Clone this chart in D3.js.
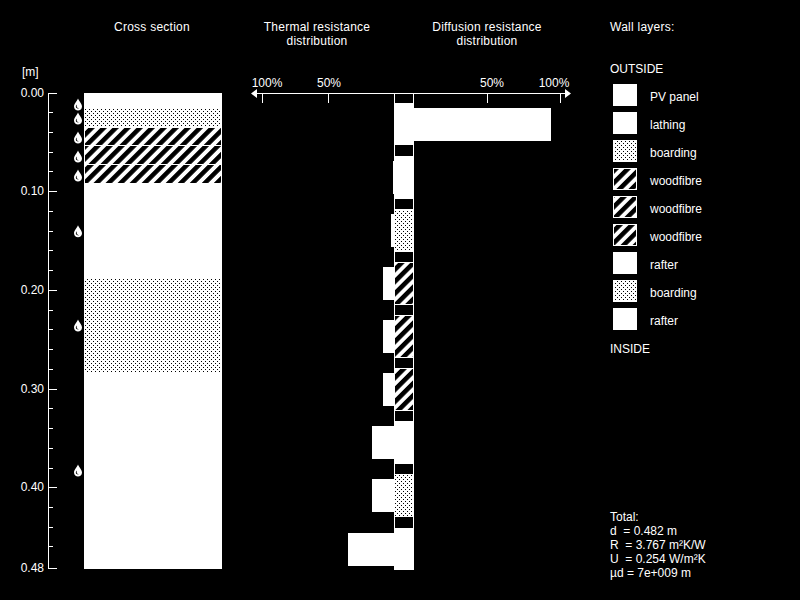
<!DOCTYPE html>
<html><head><meta charset="utf-8">
<script src="https://cdn.jsdelivr.net/npm/d3@7"></script>
<style>
html,body{margin:0;padding:0;background:#000;overflow:hidden}
text{font-family:"Liberation Sans",Arial,sans-serif;font-size:12px;fill:#fff;white-space:pre}
text.title{letter-spacing:.25px}
</style></head><body>
<script>
const layerNames=["PV panel","lathing","boarding","woodfibre","woodfibre","woodfibre","rafter","boarding","rafter"];
const layerFills=["solid","solid","dots","hatch","hatch","hatch","solid","dots","solid"];
const thicknesses=[0.005,0.0102,0.0193,0.0192,0.0192,0.0191,0.095,0.096,0.199];
const thermalShare=[0,0.8,2.3,8.3,8.3,8.3,16.7,16.7,35];
const diffusionShare=[94,0,0,0,0,0,0,0,0];
const dropDepths=[0.0122,0.0263,0.0456,0.0648,0.084,0.1407,0.236,0.383];
const depthMajor=[0,0.1,0.2,0.3,0.4,0.482];
const depthLabels=["0.00","0.10","0.20","0.30","0.40","0.48"];
const depthMinor=[0.02,0.04,0.06,0.08,0.12,0.14,0.16,0.18,0.22,0.24,0.26,0.28,0.32,0.34,0.36,0.38,0.42,0.44,0.46];
const percentTicks=[50,100];
const totals=["Total:","d  = 0.482 m","R  = 3.767 m²K/W","U  = 0.254 W/m²K","µd = 7e+009 m"];

const svg=d3.select("body").append("svg").attr("width",800).attr("height",600).style("display","block");
svg.append("rect").attr("width",800).attr("height",600).attr("fill","#000");
const defs=svg.append("defs");
const dots=defs.append("pattern").attr("id","dots").attr("patternUnits","userSpaceOnUse").attr("width",4).attr("height",4);
dots.append("rect").attr("width",4).attr("height",4).attr("fill","#fff").attr("shape-rendering","crispEdges");
[[1,1],[3,3]].forEach(p=>dots.append("rect").attr("x",p[0]).attr("y",p[1]).attr("width",1).attr("height",1).attr("fill","#000").attr("shape-rendering","crispEdges"));
const hatch=defs.append("pattern").attr("id","hatch").attr("patternUnits","userSpaceOnUse").attr("width",8.5).attr("height",8.5).attr("patternTransform","rotate(45)");
hatch.append("rect").attr("width",8.5).attr("height",8.5).attr("fill","#fff");
hatch.append("rect").attr("width",4.6).attr("height",8.5).attr("fill","#000");
const fillOf=k=>k==="solid"?"#fff":`url(#${k})`;

// titles
const titles=[[152,27,"Cross section"],[317,27,"Thermal resistance"],[317,41,"distribution"],[487,27,"Diffusion resistance"],[487,41,"distribution"]];
svg.selectAll("text.title").data(titles).join("text").attr("class","title")
  .attr("x",d=>d[0]).attr("y",d=>d[1]+4).attr("text-anchor","middle").text(d=>d[2]);

// depth axis
const yScale=d3.scaleLinear().domain([0,0.482]).range([92.5,568.2]);
const yPx=v=>Math.round(yScale(v));
const ax=svg.append("g").attr("stroke","#fff").attr("stroke-width",1).attr("shape-rendering","crispEdges");
ax.append("line").attr("x1",48.5).attr("x2",48.5).attr("y1",93).attr("y2",yPx(0.482)+1);
depthMajor.forEach(v=>ax.append("line").attr("x1",48).attr("x2",57).attr("y1",yPx(v)+.5).attr("y2",yPx(v)+.5));
depthMinor.forEach(v=>ax.append("line").attr("x1",48).attr("x2",53).attr("y1",yPx(v)+.5).attr("y2",yPx(v)+.5));
svg.selectAll("text.dl").data(depthLabels).join("text").attr("class","dl")
  .attr("x",44).attr("y",(d,i)=>yPx(depthMajor[i])+4).attr("text-anchor","end").text(d=>d);
svg.append("text").attr("x",22).attr("y",76).text("[m]");

// cross section
let acc=0;
const stacks=thicknesses.map((t,i)=>{const o={i,y0:acc,y1:acc+t};acc+=t;return o;});
const sec=svg.append("g").attr("shape-rendering","crispEdges");
sec.selectAll("rect.w").data(stacks).join("rect").attr("class","w")
  .attr("x",84).attr("width",138).attr("y",d=>yPx(d.y0)).attr("height",d=>yPx(d.y1)-yPx(d.y0)+1).attr("fill","#fff");
sec.selectAll("rect.p").data(stacks.filter(d=>layerFills[d.i]!=="solid")).join("rect").attr("class","p")
  .attr("x",85).attr("width",136).attr("y",d=>yPx(d.y0)+1).attr("height",d=>yPx(d.y1)-yPx(d.y0)-1).attr("fill",d=>fillOf(layerFills[d.i]));

// drops
const dropG=svg.append("g").selectAll("g").data(dropDepths).join("g").attr("transform",d=>`translate(78,${yScale(d)})`);
dropG.append("path").attr("d","M0,-6 C1,-3 4,-1 4,2 C4,4.5 2,6 0,6 C-2,6 -4,4.5 -4,2 C-4,-1 -1,-3 0,-6Z").attr("fill","#fff");
dropG.append("path").attr("d","M-1,0 C-2,2 -1,3.5 1,4 C-1,4.5 -2.8,3 -2,1Z").attr("fill","#000");

// distribution
const xT=d3.scaleLinear().domain([0,100]).range([394,262]);
const xD=d3.scaleLinear().domain([0,100]).range([414,560]);
const rows=d3.scaleBand().domain(d3.range(layerNames.length)).range([103,570]).paddingInner(0.2);
const rg=svg.append("g").attr("shape-rendering","crispEdges");
rg.selectAll("rect.t").data(thermalShare).join("rect").attr("class","t")
  .attr("x",d=>xT(d)).attr("width",d=>xT(0)-xT(d)).attr("y",(d,i)=>rows(i)+5).attr("height",33).attr("fill","#fff");
rg.selectAll("rect.d").data(diffusionShare).join("rect").attr("class","d")
  .attr("x",xD(0)).attr("width",d=>xD(d)-xD(0)).attr("y",(d,i)=>rows(i)+5).attr("height",33).attr("fill","#fff");
rg.selectAll("rect.b").data(layerFills).join("rect").attr("class","b")
  .attr("x",394).attr("width",20).attr("y",(d,i)=>rows(i)).attr("height",rows.bandwidth()).attr("fill","#fff");
rg.selectAll("rect.f").data(layerFills.map((f,i)=>({f,i})).filter(d=>d.f!=="solid")).join("rect").attr("class","f")
  .attr("x",395).attr("width",18).attr("y",d=>rows(d.i)+1).attr("height",rows.bandwidth()-2).attr("fill",d=>fillOf(d.f));
const axisTop=svg.append("g").attr("stroke","#fff").attr("shape-rendering","crispEdges");
axisTop.append("line").attr("x1",252).attr("x2",570).attr("y1",93.5).attr("y2",93.5);
[394.5,413.5].forEach(x=>axisTop.append("line").attr("x1",x).attr("x2",x).attr("y1",93).attr("y2",570));
percentTicks.forEach(p=>{[xT,xD].forEach(s=>axisTop.append("line").attr("x1",Math.round(s(p))+.5).attr("x2",Math.round(s(p))+.5).attr("y1",93).attr("y2",103));});
svg.append("path").attr("d","M251,93.5 L257,89 L257,98Z M571,93.5 L565,89 L565,98Z").attr("fill","#fff");
percentTicks.forEach(p=>{[xT,xD].forEach(s=>svg.append("text").attr("x",s(p)+(p===100?(s===xT?5:-6):s===xT?1:5)).attr("y",87).attr("text-anchor","middle").text(p+"%"));});

// legend
const ly=i=>84+i*28;
svg.append("text").attr("x",610).attr("y",73).text("OUTSIDE");
svg.append("text").attr("x",610).attr("y",353).text("INSIDE");
svg.append("text").attr("class","title").attr("x",610).attr("y",31).text("Wall layers:");
const lg=svg.append("g").attr("shape-rendering","crispEdges");
lg.selectAll("rect.s").data(layerFills).join("rect").attr("class","s")
  .attr("x",613).attr("y",(d,i)=>ly(i)).attr("width",24).attr("height",22).attr("fill","#fff");
lg.selectAll("rect.q").data(layerFills.map((f,i)=>({f,i})).filter(d=>d.f!=="solid")).join("rect").attr("class","q")
  .attr("x",614).attr("y",d=>ly(d.i)+1).attr("width",22).attr("height",20).attr("fill",d=>fillOf(d.f));
svg.selectAll("text.ln").data(layerNames).join("text").attr("class","ln")
  .attr("x",650).attr("y",(d,i)=>ly(i)+17).text(d=>d);

// totals
svg.selectAll("text.tot").data(totals).join("text").attr("class","tot")
  .attr("x",610).attr("y",(d,i)=>521+i*14).text(d=>d);
</script></body></html>
